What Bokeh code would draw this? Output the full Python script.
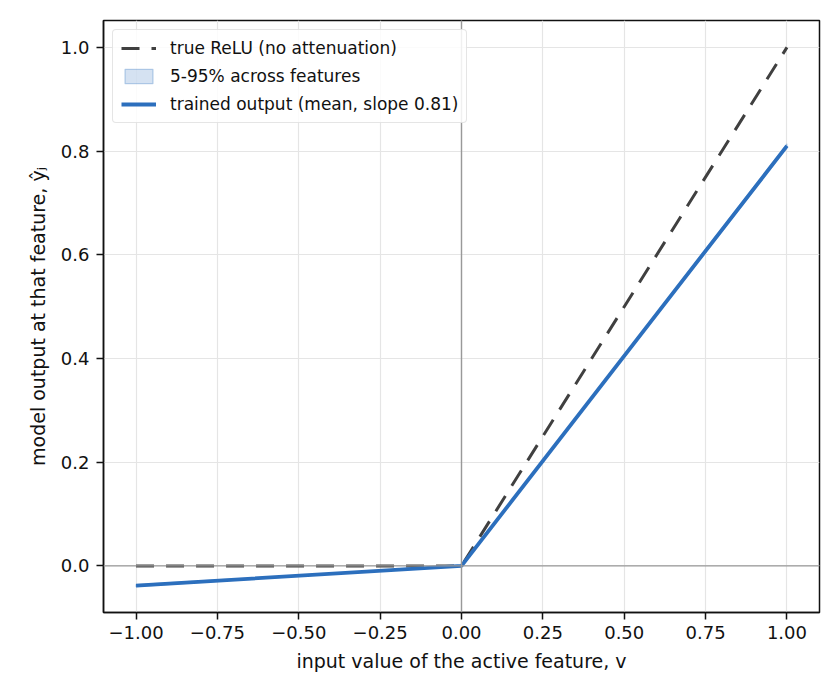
from bokeh.plotting import figure
from bokeh.models import Span, FixedTicker, Legend, LegendItem
from bokeh.embed import file_html
from bokeh.resources import INLINE

# data
v = [-1.0, 0.0, 1.0]
relu = [0.0, 0.0, 1.0]
trained_mean = [-0.038, 0.0, 0.81]
band_lower = [-0.040, 0.0, 0.806]
band_upper = [-0.036, 0.0, 0.814]

x_ticks = [-1.0, -0.75, -0.5, -0.25, 0.0, 0.25, 0.5, 0.75, 1.0]
x_tick_labels = ["\u22121.00", "\u22120.75", "\u22120.50", "\u22120.25", "0.00", "0.25", "0.50", "0.75", "1.00"]
y_ticks = [0.0, 0.2, 0.4, 0.6, 0.8, 1.0]
y_tick_labels = ["0.0", "0.2", "0.4", "0.6", "0.8", "1.0"]

FONT = "DejaVu Sans"

p = figure(frame_width=716, frame_height=592, x_range=(-1.1, 1.1), y_range=(-0.0899, 1.0519),
           output_backend="svg", toolbar_location=None,
           min_border_left=103, min_border_right=13, min_border_top=20, min_border_bottom=72)
p.background_fill_color = "white"
p.border_fill_color = "white"
p.outline_line_color = "#111111"
p.outline_line_width = 1.5

for ax in (p.xaxis, p.yaxis):
    ax.axis_line_color = "#111111"
    ax.axis_line_width = 1.5
    ax.major_tick_line_color = "#111111"
    ax.major_tick_line_width = 1.5
    ax.major_tick_out = 7
    ax.major_tick_in = 0
    ax.minor_tick_line_color = None
    ax.major_label_text_font = FONT
    ax.major_label_text_font_size = "18px"
    ax.major_label_text_color = "#111111"
    ax.axis_label_text_font = FONT
    ax.axis_label_text_font_size = "19px"
    ax.axis_label_text_font_style = "normal"
    ax.axis_label_text_color = "#111111"

p.xaxis.ticker = FixedTicker(ticks=x_ticks)
p.xaxis.major_label_overrides = {t: l for t, l in zip(x_ticks, x_tick_labels)}
p.yaxis.ticker = FixedTicker(ticks=y_ticks)
p.yaxis.major_label_overrides = {t: l for t, l in zip(y_ticks, y_tick_labels)}
p.xaxis.axis_label = "input value of the active feature, v"
p.yaxis.axis_label = "model output at that feature, \u0177\u2c7c"
p.xaxis.major_label_standoff = 6
p.yaxis.major_label_standoff = 7
p.xaxis.axis_label_standoff = 8
p.yaxis.axis_label_standoff = 9

p.xgrid.grid_line_color = "#e5e5e5"
p.ygrid.grid_line_color = "#e5e5e5"
p.xgrid.grid_line_width = 1.2
p.ygrid.grid_line_width = 1.2
p.xgrid.ticker = FixedTicker(ticks=x_ticks)
p.ygrid.ticker = FixedTicker(ticks=y_ticks)

p.add_layout(Span(location=0, dimension="width", line_color="#999999", line_width=1.4))
p.add_layout(Span(location=0, dimension="height", line_color="#999999", line_width=1.4))

r_relu = p.line(v, relu, line_color="#404040", line_width=3.0, line_dash="18 12")
r_band = p.patch(v + v[::-1], band_lower + band_upper[::-1], fill_color="#2c6fbd", fill_alpha=0.2,
                 line_color="#2c6fbd", line_alpha=0.3, line_width=1.2)
r_mean = p.line(v, trained_mean, line_color="#2c6fbd", line_width=3.8)

legend = Legend(items=[
    LegendItem(label="true ReLU (no attenuation)", renderers=[r_relu]),
    LegendItem(label="5-95% across features", renderers=[r_band]),
    LegendItem(label="trained output (mean, slope 0.81)", renderers=[r_mean]),
], location="top_left")
legend.label_text_font = FONT
legend.label_text_font_size = "17px"
legend.label_text_color = "#111111"
legend.border_line_color = "#cccccc"
legend.border_line_width = 1.2
legend.background_fill_alpha = 0.85
legend.glyph_width = 35
legend.glyph_height = 18
legend.label_height = 18
legend.spacing = 8
legend.padding = 8
legend.margin = 9
legend.label_standoff = 14
try:
    legend.border_radius = 4
except Exception:
    pass
p.add_layout(legend)

open("out.html", "w").write(file_html(p, INLINE))
